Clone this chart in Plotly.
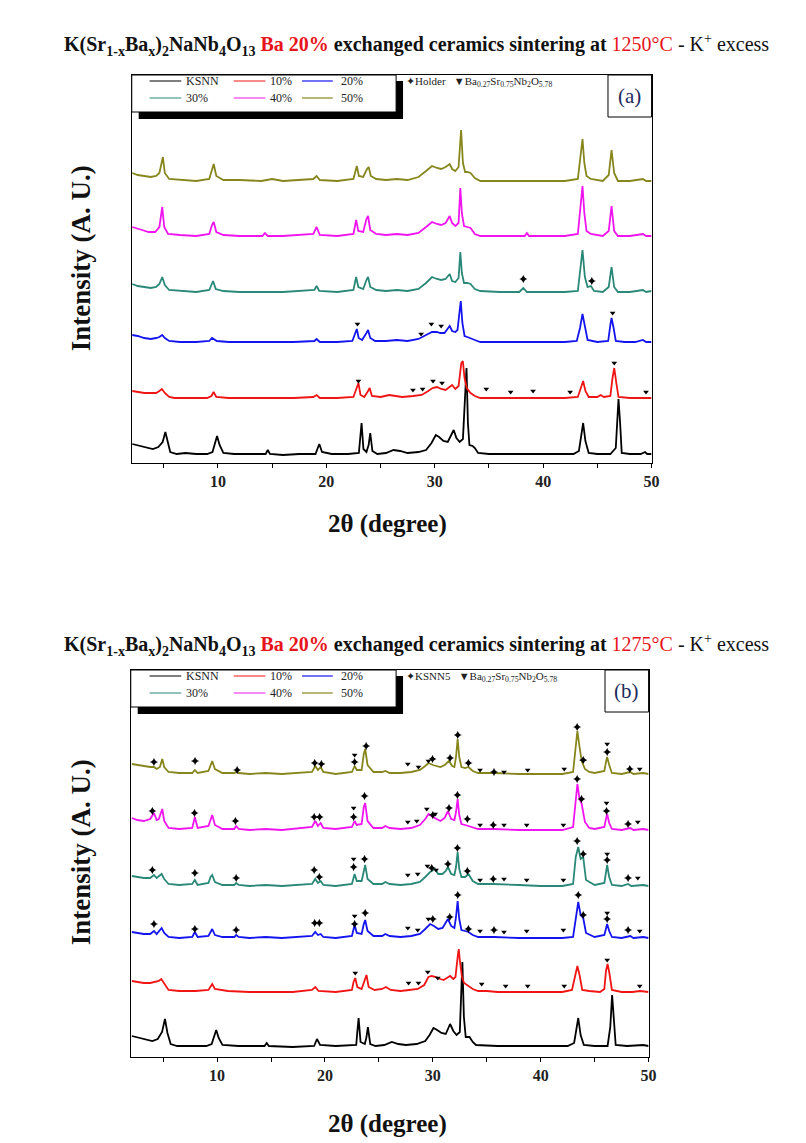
import plotly.graph_objects as go

W, H = 806, 1143
OFF = 8  # page body margin compensation

series_names = ["KSNN", "10%", "20%", "30%", "40%", "50%"]
series_colors = ["#000000", "#f01414", "#1414f0", "#2a8878", "#f014f0", "#86861c"]

x_tick_vals = [10, 20, 30, 40, 50]
x_tick_text = ["10", "20", "30", "40", "50"]

# ---------------- Panel (a): 1250 C  (2theta, intensity a.u.) ----------------
a_ksnn = [(2.1,19),(2.5,18),(3.0,17),(3.5,15),(4.0,14),(4.5,16),(4.9,21),(5.15,31),(5.35,22),(5.6,11),(6.2,9),(7,10),(8,9),(9,9),(9.5,11),(9.75,20),(9.92,27),(10.15,18),(10.5,10),(11.5,9),(13,9),(14.4,9),(14.6,13),(14.8,9),(16,8),(17.5,9),(19.0,9),(19.2,15),(19.35,19),(19.6,11),(20.5,9),(22,9),(23.0,10),(23.1,22),(23.25,40),(23.42,14),(23.7,11),(23.9,18),(24.05,30),(24.25,12),(24.7,9),(25.5,10),(26.2,13),(26.8,12),(27.5,10),(28.5,11),(29.2,13),(29.7,20),(30.1,28),(30.4,26),(30.8,22),(31.2,21),(31.5,27),(31.75,33),(32.0,25),(32.3,21),(32.6,24),(32.8,60),(32.93,95),(33.06,40),(33.2,18),(33.5,17),(33.7,15),(34.0,10),(35,9),(37,9),(39,9),(41,9),(42.8,9),(43.3,12),(43.55,30),(43.69,40),(43.9,22),(44.2,10),(45,9),(46.2,9),(46.7,15),(46.85,50),(46.95,64),(47.1,40),(47.25,10),(48,9),(49,9),(49.4,11),(49.6,9),(50,9)]
a_10 = [(2.1,72),(2.6,71),(3.2,70),(3.8,70),(4.3,70),(4.6,72),(4.83,74),(5.1,70),(5.5,66),(6,65),(7.5,65),(9,65),(9.4,67),(9.6,71),(9.85,66),(11,65),(13,65),(15,65),(17,65),(18.8,66),(19.1,68),(19.4,65),(21,65),(22.5,66),(22.75,74),(22.96,80),(23.15,68),(23.5,66),(23.85,72),(24.0,75),(24.2,67),(25,66),(25.8,68),(26.3,67),(27,66),(28,67),(28.8,68),(29.4,72),(29.8,75),(30.2,76),(30.6,74),(31.0,73),(31.4,76),(31.6,78),(31.9,74),(32.2,77),(32.45,100),(32.59,102),(32.75,85),(32.95,75),(33.3,70),(33.7,67),(34.2,65),(36,65),(38,65),(40,65),(42,65),(43.2,66),(43.5,75),(43.69,82),(43.9,72),(44.2,66),(45,66),(45.3,68),(45.6,66),(46.2,67),(46.4,85),(46.56,95),(46.75,80),(46.95,66),(48,65),(49,65),(50,65)]
a_20 = [(2.1,128),(2.6,127),(3.2,125),(3.8,124),(4.3,125),(4.6,126),(4.86,128),(5.1,125),(5.5,122),(6.5,121),(8,121),(9.2,122),(9.45,125),(9.61,124),(9.9,122),(11,121),(13,121),(15,121),(17,121),(18.9,122),(19.1,124),(19.4,121),(21,121),(22.4,122),(22.65,130),(22.81,134),(22.98,125),(23.3,123),(23.7,130),(23.85,133),(24.05,125),(24.5,122),(25.5,122),(26.5,123),(27.5,122),(28.5,124),(29.2,128),(29.75,131),(30.2,131),(30.5,130),(30.9,130),(31.2,134),(31.38,137),(31.6,132),(31.9,131),(32.1,133),(32.28,150),(32.4,162),(32.55,140),(32.75,127),(33.0,126),(33.3,125),(33.7,123),(34.2,121),(36,121),(38,121),(40,121),(42,121),(43.1,122),(43.4,135),(43.63,149),(43.85,138),(44.1,123),(45,121),(46.0,122),(46.2,138),(46.31,145),(46.5,135),(46.7,122),(47.5,121),(48.5,121),(49.2,123),(49.5,121),(50,121)]
a_30 = [(2.1,179),(2.6,177),(3.2,176),(3.8,175),(4.3,176),(4.6,179),(4.86,186),(5.1,178),(5.5,173),(6.5,172),(8,171),(9.2,173),(9.4,178),(9.55,182),(9.8,174),(10.5,172),(12,171),(14,171),(16,171),(18.9,173),(19.1,177),(19.35,172),(21,171),(22.5,173),(22.75,186),(22.95,176),(23.4,174),(23.7,183),(23.85,186),(24.05,176),(24.6,173),(25.5,172),(26.5,173),(27.5,172),(28.5,174),(29.2,180),(29.75,186),(30.2,184),(30.6,183),(31.0,184),(31.38,189),(31.6,182),(31.9,181),(32.2,185),(32.36,211),(32.5,190),(32.7,180),(33.0,180),(33.3,179),(33.7,174),(34.2,172),(36,171),(37.8,171),(38.17,175),(38.5,171),(40,171),(42,171),(43.2,172),(43.45,200),(43.63,213),(43.85,186),(44.1,176),(44.4,177),(44.7,172),(45.5,171),(46.05,176),(46.31,196),(46.55,176),(46.9,171),(48,171),(49.2,173),(49.5,171),(50,172)]
a_40 = [(2.1,236),(2.5,235),(3.0,233),(3.6,231),(4.2,231),(4.6,236),(4.86,256),(5.05,236),(5.4,229),(6.5,228),(8,227),(9.2,229),(9.45,238),(9.61,241),(9.85,231),(10.5,228),(12,227),(14.1,227),(14.33,230),(14.6,227),(16,227),(18.8,229),(19.1,236),(19.4,228),(21,227),(22.5,229),(22.75,243),(22.95,232),(23.4,231),(23.7,244),(23.85,247),(24.05,233),(24.6,229),(25.5,228),(26.5,229),(27.5,228),(28.5,230),(29.2,236),(29.75,241),(30.2,239),(30.6,238),(31.0,240),(31.38,247),(31.6,240),(31.9,237),(32.2,240),(32.36,275),(32.5,250),(32.7,237),(33.0,236),(33.3,235),(33.7,229),(34.2,227),(36,227),(38.3,227),(38.5,230),(38.7,227),(40,227),(42,227),(43.2,229),(43.45,260),(43.63,277),(43.8,250),(44.0,232),(44.4,229),(45.5,227),(46.05,232),(46.31,257),(46.55,232),(46.9,227),(48,227),(49.2,229),(49.5,227),(50,227)]
a_50 = [(2.1,290),(2.6,288),(3.2,287),(3.8,286),(4.3,287),(4.6,290),(4.92,306),(5.1,290),(5.5,284),(6.5,283),(8,282),(9.2,284),(9.45,294),(9.61,299),(9.85,287),(10.5,283),(12,283),(14,282),(15,284),(16,282),(18.8,284),(19.1,287),(19.4,283),(21,282),(22.5,284),(22.81,297),(23.0,287),(23.4,286),(23.75,294),(23.91,296),(24.1,287),(24.6,284),(25.5,283),(26.5,284),(27.5,283),(28.5,286),(29.2,292),(29.75,297),(30.2,295),(30.6,294),(31.0,296),(31.38,299),(31.6,294),(31.9,292),(32.2,296),(32.43,333),(32.6,300),(32.8,291),(33.0,291),(33.3,290),(33.7,285),(34.2,282),(36,282),(38,282),(40,282),(42,282),(43.2,284),(43.45,310),(43.63,324),(43.8,300),(44.0,287),(44.4,284),(45.5,282),(46.05,288),(46.31,313),(46.55,290),(46.9,282),(48,282),(49.2,284),(49.5,282),(50,282)]

# phase markers (a): holder (star) and Ba0.27Sr0.75Nb2O5.78 (triangle)
a_holder = [(38.17,184),(44.49,182)]
a_tri = [(22.96,82),(27.99,73),(28.88,74),(29.84,82),(30.67,80),(34.75,74),(37.0,71),(39.07,72),(42.49,71),(46.56,100),(49.49,71),
         (22.87,139),(28.74,129),(29.69,139),(30.59,137),(46.41,150)]

# ---------------- Panel (b): 1275 C ----------------
b_ksnn = [(2.1,21),(2.5,20),(3.0,19),(3.5,17),(4.0,16),(4.5,18),(4.9,25),(5.17,38),(5.4,24),(5.7,13),(6.3,11),(7.5,11),(9,11),(9.5,13),(9.75,22),(9.92,27),(10.15,19),(10.5,12),(12,11),(14.4,11),(14.6,14),(14.8,11),(17,10),(19.0,11),(19.26,18),(19.55,12),(21,11),(22.9,12),(23.0,25),(23.12,39),(23.3,15),(23.7,13),(23.85,20),(23.98,30),(24.2,13),(24.7,11),(25.5,12),(26.2,15),(26.8,13),(27.5,12),(28.5,13),(29.3,16),(29.7,22),(30.06,29),(30.4,27),(30.8,24),(31.2,23),(31.4,28),(31.6,33),(31.9,26),(32.2,22),(32.5,25),(32.62,60),(32.74,95),(32.88,40),(33.05,20),(33.4,20),(33.7,15),(34.0,12),(36,11),(38,11),(40,11),(42.5,11),(43.1,14),(43.35,32),(43.48,39),(43.7,22),(44.0,12),(45,11),(46.2,11),(46.45,30),(46.62,62),(46.8,35),(46.95,12),(48,11),(49.5,12),(50,11)]
b_10 = [(2.1,76),(2.6,75),(3.2,74),(3.8,74),(4.3,75),(4.6,76),(4.83,78),(5.1,73),(5.5,67),(6.5,66),(8,66),(9.2,67),(9.4,71),(9.55,73),(9.8,68),(11,66),(13,65),(15,65),(17,65),(18.8,67),(19.11,70),(19.4,66),(21,65),(22.5,67),(22.65,75),(22.81,79),(23.0,70),(23.4,68),(23.7,79),(23.85,82),(24.05,70),(24.6,67),(25.3,68),(25.65,70),(26.1,67),(27,66),(27.8,67),(28.6,68),(29.2,72),(29.59,80),(29.9,81),(30.3,80),(30.7,78),(31.0,77),(31.3,79),(31.6,81),(31.9,78),(32.1,80),(32.3,100),(32.4,108),(32.52,95),(32.7,80),(32.9,74),(33.3,71),(33.7,68),(34.2,66),(35,66),(36,65),(38,65),(40,65),(42,65),(42.9,67),(43.2,80),(43.4,91),(43.6,82),(43.85,67),(44.5,66),(45.5,65),(45.9,68),(46.05,86),(46.2,93),(46.35,85),(46.6,67),(47.5,65),(48.5,65),(49.2,66),(50,65)]
b_20 = [(2.1,125),(2.6,124),(3.2,123),(3.8,123),(4.15,126),(4.4,123),(4.86,129),(5.1,124),(5.5,120),(6.5,119),(7.7,120),(7.94,125),(8.2,120),(9.2,121),(9.4,126),(9.55,128),(9.8,122),(10.5,120),(11.6,120),(11.77,122),(12,120),(13,119),(14.5,120),(16,119),(18.8,121),(19.1,125),(19.35,122),(19.6,123),(19.85,120),(21,119),(22.5,121),(22.75,132),(22.95,124),(23.4,123),(23.6,133),(23.73,137),(23.95,126),(24.5,121),(25.3,121),(25.6,123),(26.0,121),(27,120),(28,121),(28.8,123),(29.3,128),(29.75,133),(30.1,131),(30.5,128),(30.9,129),(31.2,134),(31.4,138),(31.7,131),(32.0,129),(32.15,140),(32.3,156),(32.45,138),(32.65,127),(33.0,126),(33.3,125),(33.7,122),(34.2,120),(35.7,120),(38,119),(40,119),(42,119),(43.0,120),(43.3,140),(43.48,155),(43.7,142),(43.94,139),(44.2,124),(45,120),(45.9,122),(46.05,128),(46.16,133),(46.35,126),(46.6,120),(47.5,119),(48.3,121),(48.6,119),(49.5,120),(50,119)]
b_30 = [(2.1,181),(2.6,180),(3.2,179),(3.8,179),(4.15,182),(4.4,179),(4.86,183),(5.1,178),(5.5,173),(6.5,172),(7.7,173),(7.94,177),(8.2,172),(9.2,174),(9.4,180),(9.55,182),(9.8,175),(10.5,172),(11.6,172),(11.77,174),(12,172),(13,171),(14.5,172),(16,171),(18.8,173),(19.1,178),(19.35,174),(19.6,176),(19.85,172),(21,171),(22.5,173),(22.75,183),(22.95,176),(23.4,176),(23.6,188),(23.73,192),(23.95,178),(24.5,173),(25.3,173),(25.6,175),(26.0,173),(27,172),(28,173),(28.8,175),(29.3,180),(29.75,185),(30.2,188),(30.5,183),(30.9,183),(31.2,186),(31.4,190),(31.7,183),(32.0,182),(32.15,190),(32.3,205),(32.45,188),(32.65,180),(33.0,180),(33.3,183),(33.7,176),(34.2,173),(35.6,173),(38,172),(40,171),(42,171),(43.0,173),(43.25,200),(43.48,210),(43.7,198),(43.94,200),(44.2,177),(45,172),(45.9,174),(46.05,185),(46.16,192),(46.35,180),(46.6,172),(47.5,171),(48.1,173),(48.4,171),(49.5,172),(50,171)]
b_40 = [(2.1,239),(2.6,237),(3.2,236),(3.8,238),(4.15,244),(4.4,237),(4.6,238),(4.92,248),(5.1,236),(5.5,229),(6.5,228),(7.7,229),(7.94,240),(8.2,229),(9.2,231),(9.4,238),(9.55,242),(9.8,232),(10.5,228),(11.6,228),(11.77,231),(12,228),(13,227),(14.5,228),(16,227),(18.8,230),(19.1,236),(19.35,231),(19.6,234),(19.85,229),(21,228),(22.5,230),(22.75,236),(22.95,232),(23.4,233),(23.6,250),(23.73,254),(23.95,236),(24.5,229),(25.3,229),(25.6,231),(26.0,229),(27,228),(28,229),(28.8,232),(29.3,238),(29.6,243),(30.0,240),(30.3,238),(30.7,236),(31.1,239),(31.4,246),(31.7,238),(32.0,237),(32.15,245),(32.3,258),(32.45,242),(32.65,233),(33.0,232),(33.3,231),(33.7,229),(34.2,228),(35.6,228),(38,227),(40,227),(42,227),(43.0,230),(43.2,255),(43.4,273),(43.6,258),(43.8,253),(44.1,235),(44.5,229),(45,228),(45.9,230),(46.05,238),(46.16,243),(46.35,234),(46.6,228),(47.5,227),(48.3,229),(48.6,227),(49.5,228),(50,227)]
b_50 = [(2.1,293),(2.6,292),(3.2,291),(3.8,290),(4.15,290),(4.4,288),(4.7,290),(4.92,298),(5.1,290),(5.5,285),(6.5,284),(7.7,284),(7.94,287),(8.2,284),(9.2,286),(9.4,293),(9.55,296),(9.8,288),(10.5,284),(11.6,284),(11.77,285),(12,284),(13,283),(14.5,284),(16,283),(18.8,285),(19.1,291),(19.35,287),(19.6,290),(19.85,285),(21,283),(22.5,285),(22.75,291),(22.95,287),(23.4,287),(23.6,303),(23.73,308),(23.95,292),(24.5,285),(25.3,285),(25.6,286),(26.0,284),(27,284),(28,285),(28.8,287),(29.3,291),(29.6,294),(30.0,292),(30.3,291),(30.7,290),(31.1,292),(31.5,296),(31.8,291),(32.0,290),(32.15,300),(32.3,318),(32.45,300),(32.65,290),(33.0,289),(33.3,290),(33.7,286),(34.2,284),(35.6,284),(38,283),(40,283),(42,283),(43.0,285),(43.2,305),(43.4,326),(43.6,310),(43.8,296),(44.1,288),(44.5,285),(45,284),(45.9,286),(46.05,295),(46.16,300),(46.35,292),(46.6,284),(47.5,283),(48.3,285),(48.6,283),(49.5,284),(50,283)]

# phase markers (b): KSNN5 (star) and Ba0.27Sr0.75Nb2O5.78 (triangle)
b_star = [(4.15,133),(7.94,128),(11.77,127),(19.05,134),(19.48,134),(22.75,133),(23.73,144),(30.0,138),(31.57,140),(32.31,162),(33.3,128),(35.67,127),(43.48,162),(43.94,142),(46.16,138),(48.1,127),
          (4.0,187),(7.94,184),(11.77,179),(19.0,187),(19.48,180),(22.66,190),(23.67,198),(29.9,189),(31.4,193),(32.28,209),(33.2,186),(35.6,178),(43.38,216),(43.94,203),(46.16,197),(48.1,179),
          (4.0,246),(7.91,244),(11.7,236),(19.0,240),(19.51,240),(22.66,240),(23.67,261),(30.0,242),(31.5,249),(32.28,262),(33.2,238),(35.6,232),(43.38,278),(43.78,258),(46.1,246),(48.1,233),
          (4.15,295),(7.96,296),(11.86,287),(19.05,294),(19.67,293),(22.75,295),(23.82,311),(29.97,298),(31.6,299),(32.31,322),(33.3,294),(35.67,285),(43.38,330),(43.94,297),(46.16,305),(48.26,288)]
b_tri = [(22.81,84),(27.75,74),(28.67,74),(29.53,85),(30.46,79),(34.53,73),(36.75,71),(38.79,71),(42.18,71),(46.16,97),(49.18,71),
         (22.75,141),(27.68,129),(28.6,127),(29.59,138),(34.38,126),(36.6,125),(38.7,126),(42.1,127),(46.16,144),(49.18,126),
         (22.66,198),(27.68,182),(28.6,183),(29.5,191),(30.3,187),(34.38,177),(36.6,178),(38.7,177),(42.1,177),(46.16,203),(49.0,179),
         (22.66,249),(27.68,235),(28.51,236),(29.44,248),(30.21,243),(34.38,232),(36.6,232),(38.7,232),(42.1,232),(46.1,254),(49.0,235),
         (22.75,302),(27.68,293),(28.67,290),(29.59,296),(34.38,287),(36.6,285),(38.79,287),(42.18,288),(46.16,313),(49.18,288)]

temps = ["1250", "1275"]
phase_names = ["Holder", "KSNN5"]
panel_tags = ["(a)", "(b)"]


def split(pts):
    return [p[0] for p in pts], [p[1] for p in pts]


def px(x):
    return (x - OFF) / W


def py(y):
    return 1 - (y - OFF) / H


SERIF = "Liberation Serif"
RED = "#e8141c"

panels = [
    dict(top=75, bottom=463, left=133, right=658, xr=[2.05, 50], lines=[a_ksnn, a_10, a_20, a_30, a_40, a_50],
         star=a_holder, tri=a_tri, title_y=45, ytitle_y=258, xtitle_y=524),
    dict(top=670, bottom=1057, left=132, right=655, xr=[2.0, 50], lines=[b_ksnn, b_10, b_20, b_30, b_40, b_50],
         star=b_star, tri=b_tri, title_y=645, ytitle_y=852, xtitle_y=1124),
]

fig = go.Figure()
shapes = []
annotations = []
layout_axes = {}

for i, p in enumerate(panels):
    xa = "x" if i == 0 else "x2"
    ya = "y" if i == 0 else "y2"
    for name, color, pts in zip(series_names, series_colors, p["lines"]):
        xs, ys = split(pts)
        fig.add_trace(go.Scatter(x=xs, y=ys, mode="lines", name=name, xaxis=xa, yaxis=ya,
                                 line=dict(color=color, width=1.8), showlegend=False))
    sx, sy = split(p["star"])
    fig.add_trace(go.Scatter(x=sx, y=sy, mode="markers", xaxis=xa, yaxis=ya, showlegend=False,
                             marker=dict(symbol="star-diamond", size=6, color="black")))
    tx, ty = split(p["tri"])
    fig.add_trace(go.Scatter(x=tx, y=ty, mode="markers", xaxis=xa, yaxis=ya, showlegend=False,
                             marker=dict(symbol="triangle-down", size=5, color="black")))

    xkey = "xaxis" if i == 0 else "xaxis2"
    ykey = "yaxis" if i == 0 else "yaxis2"
    layout_axes[xkey] = dict(domain=[px(p["left"]), px(p["right"])], range=p["xr"], anchor=ya,
                             showline=True, linecolor="black", linewidth=1.3, mirror=True,
                             ticks="outside", ticklen=4, tickwidth=1.2, tickcolor="black",
                             tickmode="array", tickvals=x_tick_vals, ticktext=x_tick_text,
                             minor=dict(ticks="outside", ticklen=4, tickwidth=1.2, tickcolor="black", dtick=5, tick0=0),
                             tickfont=dict(family=SERIF, size=16, color="#222", weight="bold"),
                             showgrid=False, zeroline=False)
    layout_axes[ykey] = dict(domain=[py(p["bottom"]), py(p["top"])], range=[0, p["bottom"] - p["top"]], anchor=xa,
                             showline=True, linecolor="black", linewidth=1.3, mirror=True,
                             showticklabels=False, ticks="", showgrid=False, zeroline=False)

    top, left = p["top"], p["left"]
    # legend box with drop shadow
    shapes.append(dict(type="rect", xref="paper", yref="paper", x0=px(left + 7), x1=px(407),
                       y0=py(top + 44), y1=py(top + 6), fillcolor="black", line=dict(width=0), layer="above"))
    shapes.append(dict(type="rect", xref="paper", yref="paper", x0=px(left), x1=px(400),
                       y0=py(top + 37), y1=py(top), fillcolor="white", line=dict(color="black", width=1), layer="above"))
    col_lines = [(151, 183), (236, 268), (305, 336)]
    col_text = [186, 271, 342]
    row_y = [top + 6, top + 23]
    for k, (name, color) in enumerate(zip(series_names, series_colors)):
        r, c = divmod(k, 3)
        shapes.append(dict(type="line", xref="paper", yref="paper", x0=px(col_lines[c][0]), x1=px(col_lines[c][1]),
                           y0=py(row_y[r]), y1=py(row_y[r]), line=dict(color=color, width=1.2), layer="above"))
        annotations.append(dict(text=name, xref="paper", yref="paper", x=px(col_text[c]), y=py(row_y[r]),
                                xanchor="left", yanchor="middle", showarrow=False,
                                font=dict(family=SERIF, size=12, color="#222")))
    # phase key
    annotations.append(dict(text="✦" + phase_names[i] + "   ▼Ba<sub>0.27</sub>Sr<sub>0.75</sub>Nb<sub>2</sub>O<sub>5.78</sub>",
                            xref="paper", yref="paper", x=px(408), y=py(top + 7), xanchor="left", yanchor="middle",
                            showarrow=False, font=dict(family=SERIF, size=11, color="#222")))
    # panel tag box
    shapes.append(dict(type="rect", xref="paper", yref="paper", x0=px(p["right"] - 44), x1=px(p["right"]),
                       y0=py(top + 42), y1=py(top), fillcolor="white", line=dict(color="black", width=1), layer="above"))
    annotations.append(dict(text=panel_tags[i], xref="paper", yref="paper", x=px(p["right"] - 22), y=py(top + 21),
                            xanchor="center", yanchor="middle", showarrow=False,
                            font=dict(family=SERIF, size=21, color="#1c2b5c")))
    # title
    title = ("<b>K(Sr<sub>1-x</sub>Ba<sub>x</sub>)<sub>2</sub>NaNb<sub>4</sub>O<sub>13</sub> "
             "<span style='color:%s'>Ba 20%%</span> exchanged ceramics sintering at </b>"
             "<span style='color:%s'>%s°C</span> - K<sup>+</sup> excess") % (RED, RED, temps[i])
    annotations.append(dict(text=title, xref="paper", yref="paper", x=px(63), y=py(p["title_y"]),
                            xanchor="left", yanchor="middle", showarrow=False,
                            font=dict(family=SERIF, size=20, color="#111")))
    # axis titles
    annotations.append(dict(text="<b>Intensity (A. U.)</b>", xref="paper", yref="paper", x=px(82), y=py(p["ytitle_y"]),
                            xanchor="center", yanchor="middle", textangle=-90, showarrow=False,
                            font=dict(family=SERIF, size=27, color="#111")))
    annotations.append(dict(text="<b>2θ (degree)</b>", xref="paper", yref="paper", x=px(391), y=py(p["xtitle_y"]),
                            xanchor="center", yanchor="middle", showarrow=False,
                            font=dict(family=SERIF, size=25, color="#111")))

fig.update_layout(width=W, height=H, margin=dict(l=0, r=0, t=0, b=0), autosize=False,
                  paper_bgcolor="white", plot_bgcolor="white", showlegend=False,
                  shapes=shapes, annotations=annotations, **layout_axes)

fig.write_html("out.html")
